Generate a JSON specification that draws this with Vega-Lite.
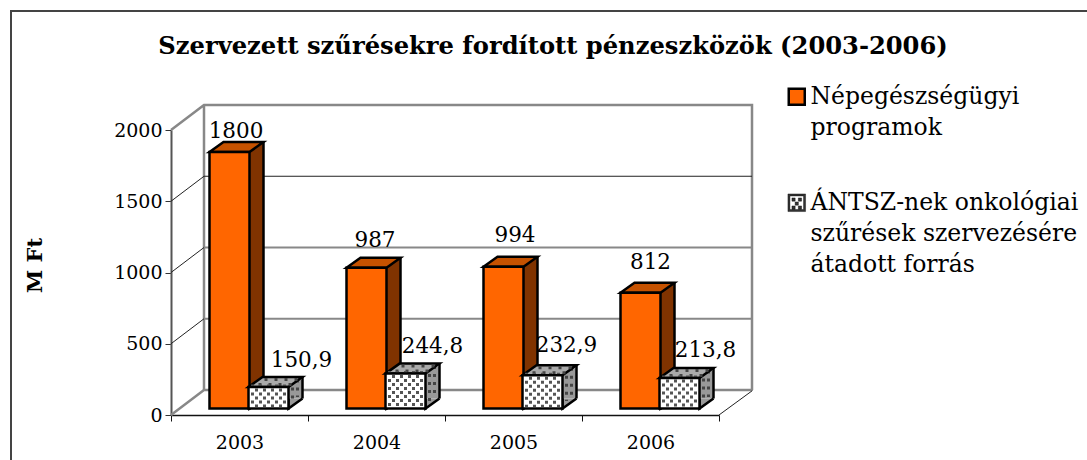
{
"$schema":"https://vega.github.io/schema/vega-lite/v6.json",
"width":548,"height":285,"autosize":"none",
"padding":{"left":171,"top":130,"right":368,"bottom":45},
"background":"white",
"config":{"view":{"stroke":null},"font":"DejaVu Serif"},
"title":{"text":"Szervezett szűrésekre fordított pénzeszközök (2003-2006)","font":"DejaVu Serif","fontSize":24.2,"fontWeight":"bold","color":"black","anchor":"middle","frame":"group","dx":108,"offset":-52},
"datasets":{
"bars":[
{"year":"2003","series":"Népegészségügyi|programok","value":1800,"label":"1800"},
{"year":"2004","series":"Népegészségügyi|programok","value":987,"label":"987"},
{"year":"2005","series":"Népegészségügyi|programok","value":994,"label":"994"},
{"year":"2006","series":"Népegészségügyi|programok","value":812,"label":"812"},
{"year":"2003","series":"ÁNTSZ-nek onkológiai|szűrések szervezésére|átadott forrás","value":150.9,"label":"150,9"},
{"year":"2004","series":"ÁNTSZ-nek onkológiai|szűrések szervezésére|átadott forrás","value":244.8,"label":"244,8"},
{"year":"2005","series":"ÁNTSZ-nek onkológiai|szűrések szervezésére|átadott forrás","value":232.9,"label":"232,9"},
{"year":"2006","series":"ÁNTSZ-nek onkológiai|szűrések szervezésére|átadott forrás","value":213.8,"label":"213,8"}],
"ticks":[{"year":"2003","value":0},{"year":"2003","value":500},{"year":"2003","value":1000},{"year":"2003","value":1500},{"year":"2003","value":2000}],
"base":[{"year":"2003","value":0},{"year":"2004","value":0},{"year":"2005","value":0},{"year":"2006","value":0}]
},
"data":{"name":"bars"},
"encoding":{
"x":{"field":"year","type":"nominal","title":null,"scale":{"domain":["2003","2004","2005","2006"],"paddingInner":0,"paddingOuter":0},
"axis":{"labelAngle":0,"labelFontSize":19,"labelFont":"DejaVu Serif","labelColor":"black","labelPadding":12,"domainColor":"#111","domainWidth":1.5,"tickColor":"#111","tickSize":6,"tickBand":"extent","grid":false}},
"y":{"field":"value","type":"quantitative","stack":null,"scale":{"domain":[0,2000],"nice":false},
"axis":{"values":[0,500,1000,1500,2000],"format":"d","title":"M Ft","titleFontSize":21,"titleFont":"DejaVu Serif","titleFontWeight":"bold","titleColor":"black","titleX":-126,"titleY":135,"titleAngle":270,"labelFontSize":19,"labelFont":"DejaVu Serif","labelColor":"black","labelPadding":3,"domainColor":"#555","domainWidth":2,"tickColor":"#333","tickSize":6,"grid":false}}
},
"layer":[
{"data":{"name":"base"},"transform":[{"filter":"datum.year=='2003'"}],"mark":{"type":"point","shape":"M-228.5,60L-228.5,-404L860,-404","size":4,"fill":null,"stroke":"#444","strokeWidth":2,"opacity":1}},
{"data":{"name":"ticks"},"transform":[{"filter":"datum.value==0"}],"mark":{"type":"point","shape":"M-68.5,0L-35.5,-25L512.5,-25","size":4,"fill":null,"stroke":"#888","strokeWidth":2.5,"opacity":1}},
{"data":{"name":"ticks"},"transform":[{"filter":"datum.value==2000"}],"mark":{"type":"point","shape":"M-68.5,0L-35.5,-25L512.5,-25L512.5,260M-35.5,-25L-35.5,260","size":4,"fill":null,"stroke":"#888","strokeWidth":2.5,"opacity":1}},
{"data":{"name":"ticks"},"transform":[{"filter":"datum.value==500||datum.value==1000"}],"mark":{"type":"point","shape":"M-35.5,-25L512.5,-25","size":4,"fill":null,"stroke":"#888","strokeWidth":2,"opacity":1}},
{"data":{"name":"ticks"},"transform":[{"filter":"datum.value==1500"}],"mark":{"type":"point","shape":"M-35.5,-25L512.5,-25","size":4,"fill":null,"stroke":"#222","strokeWidth":1,"opacity":1}},
{"data":{"name":"ticks"},"transform":[{"filter":"datum.value>0&&datum.value<2000"}],"mark":{"type":"point","shape":"M-68.5,0L-35.5,-25","size":4,"fill":null,"stroke":"#222","strokeWidth":1,"opacity":1}},
{"data":{"name":"base"},"transform":[{"filter":"datum.year=='2006'"}],"mark":{"type":"point","shape":"M68.5,0L102,-24.5","size":4,"fill":null,"stroke":"#222","strokeWidth":1,"opacity":1}},

{"transform":[{"filter":"datum.value>500"}],"mark":{"type":"bar","width":40,"fill":"#803300","xOffset":4,"yOffset":-16.5,"y2Offset":-16.5},"encoding":{"y2":{"datum":0}}},
{"data":{"name":"base"},"mark":{"type":"point","shape":"M14,-10L0,0L0,-10","size":4,"filled":true,"fill":"#803300","stroke":"black","strokeWidth":2.5,"opacity":1,"xOffset":10,"yOffset":-6.5}},
{"transform":[{"filter":"datum.value>500"}],"mark":{"type":"rule","stroke":"black","strokeWidth":2.5,"xOffset":24,"yOffset":-16.5,"y2Offset":-16.5},"encoding":{"y2":{"datum":0}}},
{"transform":[{"filter":"datum.value>500"}],"mark":{"type":"point","shape":"M0,0L14,-10L54,-10L40,0Z","size":4,"filled":true,"fill":"#C65200","stroke":"black","strokeWidth":2.5,"opacity":1,"xOffset":-30,"yOffset":-6.5}},
{"transform":[{"filter":"datum.value>500"}],"mark":{"type":"bar","width":40,"fill":"#FF6600","stroke":"black","strokeWidth":2.5,"xOffset":-10,"yOffset":-6.5,"y2Offset":-6.5},"encoding":{"y2":{"datum":0}}},

{"transform":[{"filter":"datum.value<500"}],"mark":{"type":"bar","width":14,"fill":"#999","xOffset":56,"yOffset":-13.5,"y2Offset":-16.5},"encoding":{"y2":{"datum":0}}},
{"data":{"name":"base"},"mark":{"type":"point","shape":"M14,-10L0,0L0,-10","size":4,"filled":true,"fill":"#999","stroke":"black","strokeWidth":2.5,"opacity":1,"xOffset":49,"yOffset":-6.5}},
{"transform":[{"filter":"datum.value<500"}],"mark":{"type":"rule","stroke":"#444","strokeWidth":3,"strokeDash":[3,5],"xOffset":53,"yOffset":-14,"y2Offset":-14},"encoding":{"y2":{"datum":0}}},
{"transform":[{"filter":"datum.value<500"}],"mark":{"type":"rule","stroke":"#444","strokeWidth":3,"strokeDash":[3,5],"strokeDashOffset":4,"xOffset":58,"yOffset":-18,"y2Offset":-18},"encoding":{"y2":{"datum":0}}},
{"transform":[{"filter":"datum.value<500"}],"mark":{"type":"rule","stroke":"black","strokeWidth":2.5,"xOffset":63,"yOffset":-16.5,"y2Offset":-16.5},"encoding":{"y2":{"datum":0}}},
{"transform":[{"filter":"datum.value<500"}],"mark":{"type":"point","shape":"M0,0L14,-10L54,-10L40,0Z","size":4,"filled":true,"fill":"#AAA","stroke":"black","strokeWidth":2.5,"opacity":1,"xOffset":9,"yOffset":-6.5}},
{"transform":[{"filter":"datum.value<500"}],"mark":{"type":"point","shape":"M10,-4h3v3h-3zM20,-4h3v3h-3zM30,-4h3v3h-3zM40,-4h3v3h-3zM16,-9h3v3h-3zM26,-9h3v3h-3zM36,-9h3v3h-3zM46,-9h3v3h-3z","size":4,"filled":true,"fill":"#444","stroke":null,"opacity":1,"xOffset":9,"yOffset":-6.5}},
{"transform":[{"filter":"datum.value<500"}],"mark":{"type":"bar","width":40,"fill":"white","xOffset":29,"yOffset":-6.5,"y2Offset":-6.5},"encoding":{"y2":{"datum":0}}},

{"transform":[{"filter":"datum.value<500"}],"mark":{"type":"rule","stroke":"#555","strokeWidth":3,"strokeDash":[3,5],"xOffset":13,"yOffset":-9,"y2Offset":-8},"encoding":{"y2":{"datum":0}}},
{"transform":[{"filter":"datum.value<500"}],"mark":{"type":"rule","stroke":"#555","strokeWidth":3,"strokeDash":[3,5],"strokeDashOffset":4,"xOffset":17,"yOffset":-9,"y2Offset":-8},"encoding":{"y2":{"datum":0}}},
{"transform":[{"filter":"datum.value<500"}],"mark":{"type":"rule","stroke":"#555","strokeWidth":3,"strokeDash":[3,5],"xOffset":21,"yOffset":-9,"y2Offset":-8},"encoding":{"y2":{"datum":0}}},
{"transform":[{"filter":"datum.value<500"}],"mark":{"type":"rule","stroke":"#555","strokeWidth":3,"strokeDash":[3,5],"strokeDashOffset":4,"xOffset":25,"yOffset":-9,"y2Offset":-8},"encoding":{"y2":{"datum":0}}},
{"transform":[{"filter":"datum.value<500"}],"mark":{"type":"rule","stroke":"#555","strokeWidth":3,"strokeDash":[3,5],"xOffset":29,"yOffset":-9,"y2Offset":-8},"encoding":{"y2":{"datum":0}}},
{"transform":[{"filter":"datum.value<500"}],"mark":{"type":"rule","stroke":"#555","strokeWidth":3,"strokeDash":[3,5],"strokeDashOffset":4,"xOffset":33,"yOffset":-9,"y2Offset":-8},"encoding":{"y2":{"datum":0}}},
{"transform":[{"filter":"datum.value<500"}],"mark":{"type":"rule","stroke":"#555","strokeWidth":3,"strokeDash":[3,5],"xOffset":37,"yOffset":-9,"y2Offset":-8},"encoding":{"y2":{"datum":0}}},
{"transform":[{"filter":"datum.value<500"}],"mark":{"type":"rule","stroke":"#555","strokeWidth":3,"strokeDash":[3,5],"strokeDashOffset":4,"xOffset":41,"yOffset":-9,"y2Offset":-8},"encoding":{"y2":{"datum":0}}},
{"transform":[{"filter":"datum.value<500"}],"mark":{"type":"rule","stroke":"#555","strokeWidth":3,"strokeDash":[3,5],"xOffset":45,"yOffset":-9,"y2Offset":-8},"encoding":{"y2":{"datum":0}}},
{"transform":[{"filter":"datum.value<500"}],"mark":{"type":"bar","width":40,"fill":null,"stroke":"black","strokeWidth":2.5,"xOffset":29,"yOffset":-6.5,"y2Offset":-6.5},"encoding":{"y2":{"datum":0}}},

{"transform":[{"filter":"datum.label=='1800'"}],"mark":{"type":"text","fontSize":21.5,"font":"DejaVu Serif","baseline":"middle","xOffset":-3.5,"yOffset":-26.5},"encoding":{"text":{"field":"label"}}},
{"transform":[{"filter":"datum.label=='987'"}],"mark":{"type":"text","fontSize":21.5,"font":"DejaVu Serif","baseline":"middle","xOffset":-1.5,"yOffset":-33},"encoding":{"text":{"field":"label"}}},
{"transform":[{"filter":"datum.label=='994'"}],"mark":{"type":"text","fontSize":21.5,"font":"DejaVu Serif","baseline":"middle","xOffset":1.5,"yOffset":-37},"encoding":{"text":{"field":"label"}}},
{"transform":[{"filter":"datum.label=='812'"}],"mark":{"type":"text","fontSize":21.5,"font":"DejaVu Serif","baseline":"middle","xOffset":0,"yOffset":-36},"encoding":{"text":{"field":"label"}}},
{"transform":[{"filter":"datum.label=='150,9'"}],"mark":{"type":"text","fontSize":21.5,"font":"DejaVu Serif","baseline":"middle","xOffset":62,"yOffset":-32},"encoding":{"text":{"field":"label"}}},
{"transform":[{"filter":"datum.label=='244,8'"}],"mark":{"type":"text","fontSize":21.5,"font":"DejaVu Serif","baseline":"middle","xOffset":56,"yOffset":-33},"encoding":{"text":{"field":"label"}}},
{"transform":[{"filter":"datum.label=='232,9'"}],"mark":{"type":"text","fontSize":21.5,"font":"DejaVu Serif","baseline":"middle","xOffset":53,"yOffset":-36},"encoding":{"text":{"field":"label"}}},
{"transform":[{"filter":"datum.label=='213,8'"}],"mark":{"type":"text","fontSize":21.5,"font":"DejaVu Serif","baseline":"middle","xOffset":55,"yOffset":-34},"encoding":{"text":{"field":"label"}}},

{"mark":{"type":"point","filled":true,"size":0,"opacity":0},
"encoding":{
"color":{"field":"series","type":"nominal","scale":{"domain":["Népegészségügyi|programok","ÁNTSZ-nek onkológiai|szűrések szervezésére|átadott forrás"],"range":["#FF6600","#333333"]},
"legend":{"title":null,"orient":"none","legendX":614,"legendY":-45,"symbolSize":256,"symbolStrokeColor":"black","symbolStrokeWidth":2,"symbolOpacity":1,"labelFont":"DejaVu Serif","labelFontSize":23.5,"labelColor":"black","labelLimit":0,"rowPadding":50,"labelOffset":2,"labelExpr":"split(datum.label,'|')",
"encode":{"labels":{"update":{"baseline":{"value":"top"},"dy":{"value":-12},"lineHeight":{"value":31}}},"symbols":{"update":{"strokeWidth":{"signal":"datum.index==0?2.5:0.4"},"opacity":{"value":1}}}}}},
"shape":{"field":"series","type":"nominal","scale":{"domain":["Népegészségügyi|programok","ÁNTSZ-nek onkológiai|szűrések szervezésére|átadott forrás"],"range":["M-1,-1H1V1H-1Z","M-1.1,-1.1H1.1V1.1H-1.1ZM-0.85,-0.85V0.85H0.85V-0.85ZM-0.6,-0.6h0.4v0.4h-0.4zM0.2,-0.6h0.4v0.4h-0.4zM-0.2,-0.1h0.4v0.4h-0.4zM-0.6,0.4h0.4v0.4h-0.4zM0.2,0.4h0.4v0.4h-0.4z"]},"legend":{"title":null}}
}}
]
}
